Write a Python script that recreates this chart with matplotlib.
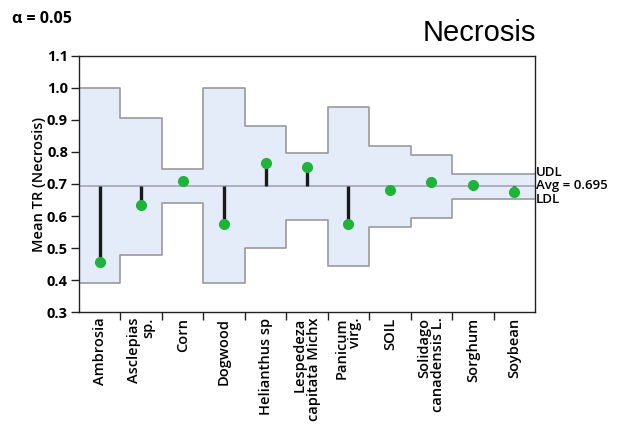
import numpy as np
import matplotlib.pyplot as plt

categories = ["Ambrosia", "Asclepias\nsp.", "Corn", "Dogwood", "Helianthus sp",
              "Lespedeza\ncapitata Michx", "Panicum\nvirg.", "SOIL",
              "Solidago\ncanadensis L.", "Sorghum", "Soybean"]
means = [0.457, 0.634, 0.709, 0.575, 0.765, 0.752, 0.575, 0.681, 0.705, 0.697, 0.676]
udl = [1.0, 0.907, 0.746, 1.0, 0.881, 0.796, 0.94, 0.82, 0.791, 0.730, 0.730]
ldl = [0.39, 0.478, 0.642, 0.39, 0.501, 0.588, 0.445, 0.565, 0.593, 0.653, 0.653]
avg = 0.695

plt.rcParams['font.family'] = ['Open Sans', 'DejaVu Sans']

fig = plt.figure(figsize=(6.44, 4.29), dpi=100)
ax = fig.add_axes([0.1227, 0.2727, 0.708, 0.5968])

n = len(categories)
x = np.arange(n)
edges = np.arange(n + 1) - 0.5

# step-shaped decision limits
ax.fill_between(edges, np.append(udl, udl[-1]), np.append(ldl, ldl[-1]),
                step="post", color="#e4ecfa", lw=0, zorder=1)
ax.step(edges, np.append(udl, udl[-1]), where="post", color="#9a9a9a", lw=1.2, zorder=2)
ax.step(edges, np.append(ldl, ldl[-1]), where="post", color="#9a9a9a", lw=1.2, zorder=2)
ax.axhline(avg, color="#a4a8b6", lw=1.2, zorder=2)

ax.vlines(x, avg, means, color="#1a1a1a", lw=2.4, zorder=3)
ax.plot(x, means, "o", color="#1fb33a", ms=7, zorder=4)

ax.set_xlim(-0.5, n - 0.5)
ax.set_ylim(0.3, 1.1)
ax.set_yticks(np.arange(0.3, 1.11, 0.1))
ax.set_yticklabels([f"{v:.1f}" for v in np.arange(0.3, 1.11, 0.1)],
                   fontsize=10.5, fontweight="bold")
ax.set_xticks(x)
ax.set_xticklabels(categories, rotation=90, fontsize=10.5, fontweight="semibold",
                   va="top", ha="center", multialignment="right", linespacing=1.0)
ax.set_xticks(edges[1:-1], minor=True)
ax.tick_params(axis="x", which="major", length=0, pad=4)
ax.tick_params(axis="x", which="minor", length=6, width=1, color="#222222")
ax.tick_params(axis="y", length=6, width=1, color="#222222", pad=2)
for s in ax.spines.values():
    s.set_color("#222222")
    s.set_linewidth(1)

ax.set_ylabel("Mean TR (Necrosis)", fontsize=10.5, fontweight="semibold", labelpad=1)

ax.text(1.002, 0.737, "UDL", transform=ax.get_yaxis_transform(), va="center",
        fontsize=9.5, fontweight="semibold")
ax.text(1.002, avg, "Avg = 0.695", transform=ax.get_yaxis_transform(), va="center",
        fontsize=9.5, fontweight="semibold")
ax.text(1.002, 0.653, "LDL", transform=ax.get_yaxis_transform(), va="center",
        fontsize=9.5, fontweight="semibold")

fig.text(0.018, 0.955, "α = 0.05", fontsize=11.5, fontweight="bold", va="center")
fig.text(0.832, 0.922, "Necrosis", fontsize=21, ha="right", va="center",
         family="Liberation Sans")

fig.savefig("out.png", dpi=100)
